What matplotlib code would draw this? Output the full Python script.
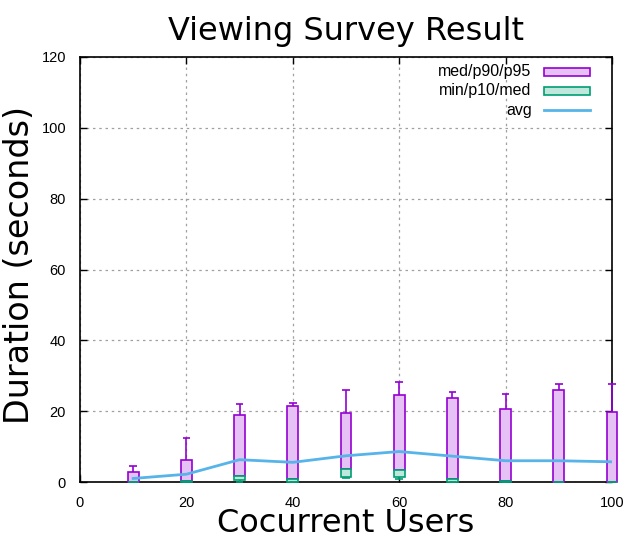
import matplotlib
matplotlib.use("Agg")
import matplotlib.pyplot as plt
from matplotlib.patches import Rectangle
import numpy as np

# data
users = np.array([10, 20, 30, 40, 50, 60, 70, 80, 90, 100])
p95 = np.array([4.4, 12.3, 21.9, 22.2, 25.9, 28.2, 25.3, 24.8, 27.7, 27.7])
p90 = np.array([2.7, 6.2, 18.8, 21.4, 19.4, 24.5, 23.6, 20.5, 25.9, 19.7])
med = np.array([0.1, 0.3, 1.6, 0.75, 3.7, 3.3, 0.75, 0.2, 0.05, 0.05])
p10 = np.array([0.0, 0.1, 0.5, 0.1, 1.3, 1.3, 0.1, 0.05, 0.0, 0.0])
vmin = np.array([0.0, 0.0, 0.1, 0.05, 1.0, 0.75, 0.05, 0.0, 0.0, 0.0])
avg = np.array([1.0, 2.2, 6.3, 5.55, 7.4, 8.6, 7.3, 6.0, 6.0, 5.7])

purple = "#9400D3"
purple_fill = "#E5C1F5"
green = "#009E73"
green_fill = "#BFE7DC"
blue = "#56B4E9"

fig = plt.figure(figsize=(6.4, 5.4), dpi=100)
ax = fig.add_axes([80 / 640, 58 / 540, 532 / 640, 425 / 540])

box_w = 2.0
cap_w = 1.4

# med/p90/p95
ax.bar(users, p90 - med, bottom=med, width=box_w, facecolor=purple_fill,
       edgecolor=purple, linewidth=1.2, zorder=3, clip_on=False)
ax.vlines(users, p90, p95, color=purple, linewidth=1.2, zorder=3, clip_on=False)
ax.hlines(p95, users - cap_w / 2, users + cap_w / 2, color=purple, linewidth=1.2,
          zorder=3, clip_on=False)

# min/p10/med
ax.bar(users, med - p10, bottom=p10, width=box_w, facecolor=green_fill,
       edgecolor=green, linewidth=1.2, zorder=4, clip_on=False)
ax.vlines(users, vmin, p10, color=green, linewidth=1.2, zorder=4, clip_on=False)
ax.hlines(vmin, users - cap_w / 2, users + cap_w / 2, color=green, linewidth=1.2,
          zorder=4, clip_on=False)

# avg
ax.plot(users, avg, color=blue, linewidth=2, zorder=5)

ax.set_xlim(0, 100)
ax.set_ylim(0, 120)
ax.set_xticks(range(0, 101, 20))
ax.set_yticks(range(0, 121, 20))
ax.tick_params(direction="in", top=True, right=True, length=5, width=1,
               labelsize=10.5, pad=10)
for lab in ax.get_xticklabels() + ax.get_yticklabels():
    lab.set_family("Liberation Sans")
ax.grid(True, color="#a0a0a0", linestyle=(0, (2, 3)), linewidth=0.9, zorder=0)
for s in ax.spines.values():
    s.set_linewidth(1.2)

ax.set_title("Viewing Survey Result", fontsize=23, family="DejaVu Sans", pad=12)
ax.set_xlabel("Cocurrent Users", fontsize=23, family="DejaVu Sans")
ax.set_ylabel("Duration (seconds)", fontsize=24, family="DejaVu Sans")
ax.xaxis.set_label_coords(0.5, -0.062)
ax.yaxis.set_label_coords(-0.083, 0.51)

# gnuplot-style key: text right-aligned, sample on the right
key = [("med/p90/p95", "box", purple_fill, purple),
       ("min/p10/med", "box", green_fill, green),
       ("avg", "line", blue, blue)]
rows = [0.965, 0.92, 0.875]
for (label, kind, fc, ec), yk in zip(key, rows):
    ax.text(0.849, yk, label, transform=ax.transAxes, ha="right", va="center",
            fontsize=11.5, family="Liberation Sans", zorder=6)
    if kind == "box":
        ax.add_patch(Rectangle((0.872, yk - 0.0095), 0.087, 0.019,
                               transform=ax.transAxes, facecolor=fc,
                               edgecolor=ec, linewidth=1.2, zorder=6))
    else:
        ax.plot([0.872, 0.959], [yk, yk], transform=ax.transAxes, color=fc,
                linewidth=2, zorder=6)

fig.savefig("out.png", dpi=100)
